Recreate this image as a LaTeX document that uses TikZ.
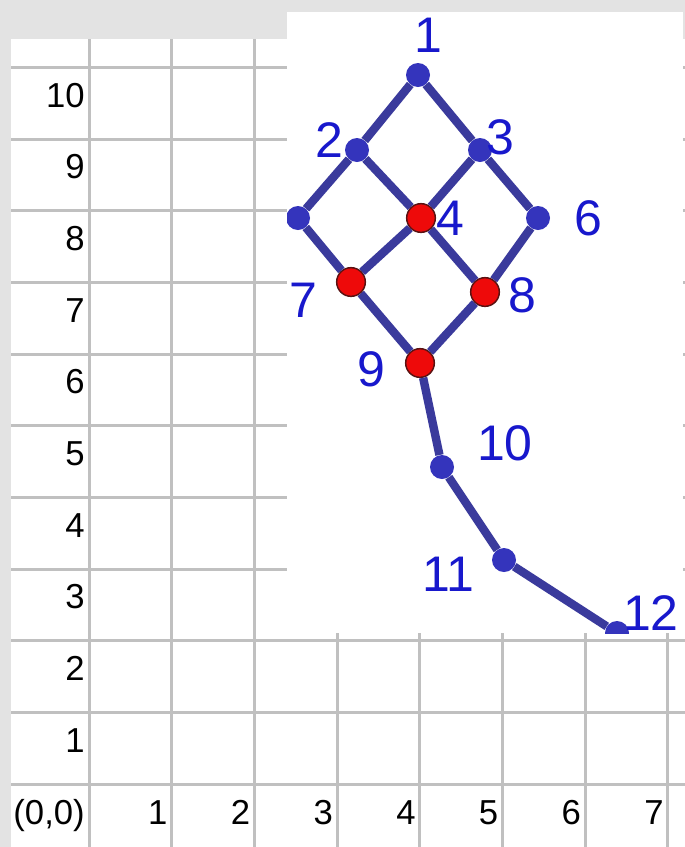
\documentclass[tikz,border=0pt]{standalone}
\usepackage{fontspec}
\setmainfont{Liberation Sans}
\usepackage{tikz}
\definecolor{SheetGray}{HTML}{E3E3E3}
\definecolor{GridGray}{HTML}{C0C0C0}
\definecolor{EdgeNavy}{HTML}{3A3A9C}
\definecolor{DotBlue}{HTML}{3434BC}
\definecolor{LabelBlue}{HTML}{1818CC}
\definecolor{DotRed}{HTML}{EE0A0A}
\definecolor{RimRed}{HTML}{5A1212}

\begin{document}
\begin{tikzpicture}[x=0.75pt, y=-0.75pt,
        gridline/.style={draw=GridGray, line width=2.25pt},
        cell/.style={anchor=base east, inner sep=0pt, font=\fontsize{26}{26}\selectfont},
        edge/.style={draw=EdgeNavy, line width=6.3pt},
        bdot/.style={circle, fill=DotBlue, inner sep=0pt, minimum size=18pt},
        rdot/.style={circle, fill=DotRed, draw=RimRed, line width=1.1pt,
                    inner sep=0pt, minimum size=21.5pt},
        num/.style={inner sep=0pt, text=LabelBlue, font=\fontsize{37.5}{37.5}\selectfont}]

        \useasboundingbox (0,0) rectangle (685,847);

        % Sheet background
        \fill[SheetGray] (0,0) rectangle (685,847);
        \fill[white] (11,39) rectangle (685,847);

        % Grid lines
        \foreach \i in {0,...,7}
          \draw[gridline] (89+82.7*\i,39) -- (89+82.7*\i,847);
        \foreach \j in {0,...,10}
          \draw[gridline] (11,67.3+71.7*\j) -- (685,67.3+71.7*\j);

        % Row and column headings
        \foreach \k in {1,...,10}
          \node[cell] (row\k) at (85,824-71.7*\k) {\k};
        \node[cell] (origin) at (85,824) {(0,0)};
        \foreach \i in {1,...,7}
          \node[cell] (col\i) at (85+82.7*\i,824) {\i};

        % Pasted lattice picture
        \fill[white] (287,12) rectangle (683,633);
        \begin{scope}
          \clip (287,12) rectangle (683,633);

          % Elements
          \node[bdot] (n1)  at (418,75)  {};
          \node[bdot] (n2)  at (357,150) {};
          \node[bdot] (n3)  at (480,150) {};
          \node[rdot] (n4)  at (421,218) {};
          \node[bdot] (n5)  at (298,218) {};
          \node[bdot] (n6)  at (538,218) {};
          \node[rdot] (n7)  at (351,282) {};
          \node[rdot] (n8)  at (485,292) {};
          \node[rdot] (n9)  at (420,363) {};
          \node[bdot] (n10) at (442,467) {};
          \node[bdot] (n11) at (504,560) {};
          \node[bdot] (n12) at (617,633) {};

          % Covering relations
          \draw[edge] (n1) -- (n2);
          \draw[edge] (n1) -- (n3);
          \draw[edge] (n2) -- (n5);
          \draw[edge] (n2) -- (n4);
          \draw[edge] (n3) -- (n4);
          \draw[edge] (n3) -- (n6);
          \draw[edge] (n5) -- (n7);
          \draw[edge] (n4) -- (n7);
          \draw[edge] (n4) -- (n8);
          \draw[edge] (n6) -- (n8);
          \draw[edge] (n7) -- (n9);
          \draw[edge] (n8) -- (n9);
          \draw[edge] (n9) -- (n10);
          \draw[edge] (n10) -- (n11);
          \draw[edge] (n11) -- (n12);

          % Labels
          \node[num] (t1)  at (428,35)  {1};
          \node[num] (t2)  at (329,140) {2};
          \node[num] (t3)  at (500,137) {3};
          \node[num] (t4)  at (450,218) {4};
          \node[num] (t6)  at (588,218) {6};
          \node[num] (t7)  at (303,300) {7};
          \node[num] (t8)  at (522,295) {8};
          \node[num] (t9)  at (371,369) {9};
          \node[num] (t10) at (505,443) {10};
          \node[num] (t11) at (448,574) {11};
          \node[num] (t12) at (651,613) {12};
        \end{scope}
      \end{tikzpicture}
\end{document}
